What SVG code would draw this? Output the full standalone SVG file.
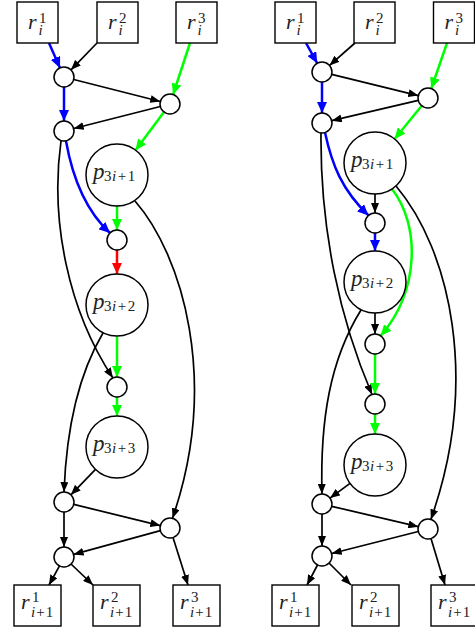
<svg xmlns="http://www.w3.org/2000/svg" width="475" height="630" viewBox="0 0 475 630">
<style>
.bx{fill:#fff;stroke:#000;stroke-width:1.4}
.nd{fill:#fff;stroke:#000;stroke-width:1.5}
.e{fill:none;stroke:#000;stroke-width:1.7;marker-end:url(#ak)}
.b{fill:none;stroke:#0000ff;stroke-width:2.5;marker-end:url(#ab)}
.g{fill:none;stroke:#00ff00;stroke-width:2.5;marker-end:url(#ag)}
.r{fill:none;stroke:#ff0000;stroke-width:2.5;marker-end:url(#ar)}
text{font-family:"Liberation Serif","DejaVu Serif",serif;fill:#222}
.m{font-size:22px;font-style:italic}
.p{font-size:23px;font-style:italic}
.s{font-size:15px;font-style:normal}
.si{font-size:15px;font-style:italic}
</style>
<defs>
<marker id="ak" viewBox="0 0 10 8" refX="10" refY="4" markerWidth="10" markerHeight="8" orient="auto" markerUnits="userSpaceOnUse"><path d="M0,0 L10,4 L0,8 z" fill="#000"/></marker>
<marker id="ab" viewBox="0 0 11 10" refX="11" refY="5" markerWidth="11" markerHeight="10" orient="auto" markerUnits="userSpaceOnUse"><path d="M0,0 L11,5 L0,10 z" fill="#0000ff"/></marker>
<marker id="ag" viewBox="0 0 11 10" refX="11" refY="5" markerWidth="11" markerHeight="10" orient="auto" markerUnits="userSpaceOnUse"><path d="M0,0 L11,5 L0,10 z" fill="#00ff00"/></marker>
<marker id="ar" viewBox="0 0 11 10" refX="11" refY="5" markerWidth="11" markerHeight="10" orient="auto" markerUnits="userSpaceOnUse"><path d="M0,0 L11,5 L0,10 z" fill="#ff0000"/></marker>
</defs>

<g id="connectors">
<!-- left -->
<path class="b" d="M49,43 L60,67.9"/>
<path class="e" d="M97,43 L71,69.8"/>
<path class="g" d="M190,43 L173.1,94.5"/>
<path class="e" d="M73.7,79.5 L160.3,101.5"/>
<path class="b" d="M64,87 L64,121"/>
<path class="e" d="M160.3,106.5 L73.7,128.5"/>
<path class="g" d="M164,112 L135.5,150.2"/>
<path class="b" d="M66,141 C72,175 85,210 110,233"/>
<path class="e" d="M61,141 C50,220 68,310 112.9,377.9"/>
<path class="g" d="M117,206 L117,230"/>
<path class="r" d="M117,250 L117,274"/>
<path class="e" d="M135,201 C182,255 220,380 172.5,518.3"/>
<path class="g" d="M117,336 L117,377"/>
<path class="g" d="M117,397 L117,416"/>
<path class="e" d="M103,333 C75,380 66,440 64,492"/>
<path class="e" d="M95.5,469.3 L70.9,494.8"/>
<path class="e" d="M73.7,504.4 L160.3,525.6"/>
<path class="e" d="M64,512 L64,547"/>
<path class="e" d="M160.4,530.6 L73.6,554.4"/>
<path class="e" d="M59.5,565.9 L49,585"/>
<path class="e" d="M71,564 L93,585"/>
<path class="e" d="M173,537.5 L188,585"/>
<!-- right -->
<path class="b" d="M306,43 L317.2,63.2"/>
<path class="e" d="M355,43 L329.5,65.4"/>
<path class="g" d="M447,43 L431.3,88.5"/>
<path class="e" d="M331.7,74.4 L418.3,95.6"/>
<path class="b" d="M322,82 L322,113"/>
<path class="e" d="M418.3,100.3 L331.7,120.7"/>
<path class="g" d="M421.7,105.75 L394.6,139"/>
<path class="b" d="M325,132.5 C332,165 342,190 368.5,215.4"/>
<path class="e" d="M321,133 C320,230 340,320 372,394.5"/>
<path class="e" d="M375,194 L375,213"/>
<path class="b" d="M375,233 L375,251"/>
<path class="g" d="M392,189 C420,225 420,290 380.7,335.8"/>
<path class="e" d="M396,186 C450,250 480,380 430.9,519.4"/>
<path class="e" d="M375,313 L375,334"/>
<path class="e" d="M361,310 C330,360 320,420 322,494"/>
<path class="g" d="M375,354 L375,394"/>
<path class="g" d="M375,414 L375,434"/>
<path class="e" d="M350,483.4 L330,498.1"/>
<path class="e" d="M331.7,506.3 L418.3,526.7"/>
<path class="e" d="M322,514 L322,546"/>
<path class="e" d="M418.3,531.5 L331.7,553.5"/>
<path class="e" d="M317.5,565 L307,585"/>
<path class="e" d="M329,563 L351,585"/>
<path class="e" d="M431,538.5 L445,585"/>
</g>

<!-- left nodes -->
<g id="L_r1"><rect class="bx" x="17" y="2" width="41" height="41"/><text><tspan class="m" x="28" y="29">r</tspan><tspan class="s" x="39" y="23">1</tspan><tspan class="si" x="38.5" y="35">i</tspan></text></g>
<g id="L_r2"><rect class="bx" x="97" y="2" width="41" height="41"/><text><tspan class="m" x="108" y="29">r</tspan><tspan class="s" x="119" y="23">2</tspan><tspan class="si" x="118.5" y="35">i</tspan></text></g>
<g id="L_r3"><rect class="bx" x="176" y="2" width="41" height="41"/><text><tspan class="m" x="187" y="29">r</tspan><tspan class="s" x="198" y="23">3</tspan><tspan class="si" x="197.5" y="35">i</tspan></text></g>
<g id="L_A"><circle class="nd" cx="64" cy="77" r="10"/></g>
<g id="L_B"><circle class="nd" cx="170" cy="104" r="10"/></g>
<g id="L_C"><circle class="nd" cx="64" cy="131" r="10"/></g>
<g id="L_P1"><circle class="nd" cx="117" cy="175" r="31"/><text><tspan class="p" x="93" y="179">p</tspan><tspan class="s" x="104" y="181">3<tspan class="si" dx="0.5">i</tspan><tspan dx="1.5">+</tspan><tspan dx="1.5">1</tspan></tspan></text></g>
<g id="L_D"><circle class="nd" cx="117" cy="240" r="10"/></g>
<g id="L_P2"><circle class="nd" cx="117" cy="305" r="31"/><text><tspan class="p" x="93" y="309">p</tspan><tspan class="s" x="104" y="311">3<tspan class="si" dx="0.5">i</tspan><tspan dx="1.5">+</tspan><tspan dx="1.5">2</tspan></tspan></text></g>
<g id="L_E"><circle class="nd" cx="117" cy="387" r="10"/></g>
<g id="L_P3"><circle class="nd" cx="117" cy="447" r="31"/><text><tspan class="p" x="93" y="451">p</tspan><tspan class="s" x="104" y="453">3<tspan class="si" dx="0.5">i</tspan><tspan dx="1.5">+</tspan><tspan dx="1.5">3</tspan></tspan></text></g>
<g id="L_F"><circle class="nd" cx="64" cy="502" r="10"/></g>
<g id="L_G"><circle class="nd" cx="170" cy="528" r="10"/></g>
<g id="L_H"><circle class="nd" cx="64" cy="557" r="10"/></g>
<g id="L_o1"><rect class="bx" x="14" y="585" width="47" height="41"/><text><tspan class="m" x="21" y="609">r</tspan><tspan class="s" x="32" y="602">1</tspan><tspan class="si" x="31" y="617">i</tspan><tspan class="s" dx="1">+</tspan><tspan class="s" dx="1">1</tspan></text></g>
<g id="L_o2"><rect class="bx" x="93" y="585" width="47" height="41"/><text><tspan class="m" x="100" y="609">r</tspan><tspan class="s" x="111" y="602">2</tspan><tspan class="si" x="110" y="617">i</tspan><tspan class="s" dx="1">+</tspan><tspan class="s" dx="1">1</tspan></text></g>
<g id="L_o3"><rect class="bx" x="173" y="585" width="47" height="41"/><text><tspan class="m" x="180" y="609">r</tspan><tspan class="s" x="191" y="602">3</tspan><tspan class="si" x="190" y="617">i</tspan><tspan class="s" dx="1">+</tspan><tspan class="s" dx="1">1</tspan></text></g>

<!-- right nodes -->
<g id="R_r1"><rect class="bx" x="275" y="2" width="41" height="41"/><text><tspan class="m" x="286" y="29">r</tspan><tspan class="s" x="297" y="23">1</tspan><tspan class="si" x="296.5" y="35">i</tspan></text></g>
<g id="R_r2"><rect class="bx" x="354" y="2" width="41" height="41"/><text><tspan class="m" x="365" y="29">r</tspan><tspan class="s" x="376" y="23">2</tspan><tspan class="si" x="375.5" y="35">i</tspan></text></g>
<g id="R_r3"><rect class="bx" x="433.5" y="2" width="41" height="41"/><text><tspan class="m" x="444.5" y="29">r</tspan><tspan class="s" x="455.5" y="23">3</tspan><tspan class="si" x="455" y="35">i</tspan></text></g>
<g id="R_A"><circle class="nd" cx="322" cy="72" r="10"/></g>
<g id="R_B"><circle class="nd" cx="428" cy="98" r="10"/></g>
<g id="R_C"><circle class="nd" cx="322" cy="123" r="10"/></g>
<g id="R_P1"><circle class="nd" cx="375" cy="163" r="31"/><text><tspan class="p" x="351" y="167">p</tspan><tspan class="s" x="362" y="169">3<tspan class="si" dx="0.5">i</tspan><tspan dx="1.5">+</tspan><tspan dx="1.5">1</tspan></tspan></text></g>
<g id="R_D"><circle class="nd" cx="375" cy="223" r="10"/></g>
<g id="R_P2"><circle class="nd" cx="375" cy="282" r="31"/><text><tspan class="p" x="351" y="286">p</tspan><tspan class="s" x="362" y="288">3<tspan class="si" dx="0.5">i</tspan><tspan dx="1.5">+</tspan><tspan dx="1.5">2</tspan></tspan></text></g>
<g id="R_E"><circle class="nd" cx="375" cy="344" r="10"/></g>
<g id="R_F"><circle class="nd" cx="375" cy="404" r="10"/></g>
<g id="R_P3"><circle class="nd" cx="375" cy="465" r="31"/><text><tspan class="p" x="351" y="469">p</tspan><tspan class="s" x="362" y="471">3<tspan class="si" dx="0.5">i</tspan><tspan dx="1.5">+</tspan><tspan dx="1.5">3</tspan></tspan></text></g>
<g id="R_G"><circle class="nd" cx="322" cy="504" r="10"/></g>
<g id="R_H"><circle class="nd" cx="428" cy="529" r="10"/></g>
<g id="R_I"><circle class="nd" cx="322" cy="556" r="10"/></g>
<g id="R_o1"><rect class="bx" x="272" y="585" width="47" height="41"/><text><tspan class="m" x="279" y="609">r</tspan><tspan class="s" x="290" y="602">1</tspan><tspan class="si" x="289" y="617">i</tspan><tspan class="s" dx="1">+</tspan><tspan class="s" dx="1">1</tspan></text></g>
<g id="R_o2"><rect class="bx" x="352" y="585" width="47" height="41"/><text><tspan class="m" x="359" y="609">r</tspan><tspan class="s" x="370" y="602">2</tspan><tspan class="si" x="369" y="617">i</tspan><tspan class="s" dx="1">+</tspan><tspan class="s" dx="1">1</tspan></text></g>
<g id="R_o3"><rect class="bx" x="431" y="585" width="47" height="41"/><text><tspan class="m" x="438" y="609">r</tspan><tspan class="s" x="449" y="602">3</tspan><tspan class="si" x="448" y="617">i</tspan><tspan class="s" dx="1">+</tspan><tspan class="s" dx="1">1</tspan></text></g>
</svg>
